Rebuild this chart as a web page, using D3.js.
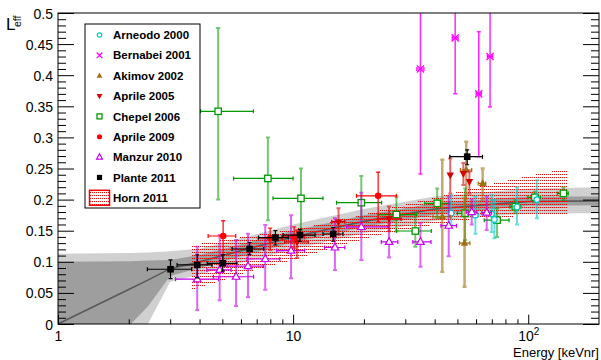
<!DOCTYPE html>
<html>
<head>
<meta charset="utf-8">
<script src="https://cdn.jsdelivr.net/npm/d3@7"></script>
<style>
  html, body { margin: 0; padding: 0; background: #fff; }
  svg { display: block; font-family: "Liberation Sans", Arial, Helvetica, sans-serif; }
</style>
</head>
<body>
<svg id="chart" width="601" height="360"></svg>
<script>
// ---- measured points: [energy, Leff, energy low, energy high, Leff low, Leff high]
const arneodo2000 = [
  [47.0, 0.178, 46.0, 48.0, 0.159, 0.207],
  [59.6, 0.175, 58.0, 61.2, 0.145, 0.205],
  [69.9, 0.177, 68.2, 71.6, 0.148, 0.207],
  [71.8, 0.168, 70.5, 73.2, 0.138, 0.200],
  [89.6, 0.188, 87.0, 92.0, 0.160, 0.220],
  [108.8, 0.200, 106.0, 111.5, 0.170, 0.231]
];
const bernabei2001 = [
  [34.8, 0.410, 33.6, 36.0, 0.241, 0.600],
  [48.9, 0.460, 47.5, 50.3, 0.370, 0.600],
  [61.6, 0.370, 60.0, 63.2, 0.269, 0.470],
  [68.8, 0.430, 67.0, 70.6, 0.349, 0.600]
];
const akimov2002 = [
  [43.1, 0.1725, 39.4, 46.8, 0.084, 0.264],
  [53.6, 0.130, 51.0, 56.5, 0.060, 0.202],
  [54.5, 0.2476, 51.5, 57.5, 0.200, 0.293],
  [64.0, 0.226, 61.3, 66.0, 0.200, 0.250]
];
const aprile2005 = [
  [10.4, 0.132, 9.2, 11.6, 0.106, 0.151],
  [15.6, 0.1645, 14.6, 16.6, 0.143, 0.186],
  [25.6, 0.169, 23.0, 28.8, 0.149, 0.189],
  [46.6, 0.2395, 46.6, 46.6, 0.210, 0.266],
  [53.0, 0.242, 53.0, 53.0, 0.2235, 0.259],
  [56.2, 0.229, 56.2, 56.2, 0.210, 0.245]
];
const chepel2006 = [
  [4.80, 0.342, 4.04, 6.78, 0.200, 0.476],
  [7.81, 0.234, 5.58, 10.0, 0.167, 0.300],
  [10.8, 0.202, 8.21, 13.4, 0.151, 0.250],
  [19.5, 0.195, 15.3, 23.8, 0.170, 0.238],
  [27.5, 0.176, 23.0, 33.5, 0.149, 0.2045],
  [33.1, 0.1495, 27.5, 38.7, 0.124, 0.177],
  [41.0, 0.194, 36.3, 46.4, 0.170, 0.218],
  [53.9, 0.178, 50.0, 58.0, 0.135, 0.218],
  [73.7, 0.167, 65.0, 82.9, 0.140, 0.186],
  [88.1, 0.1886, 83.5, 93.0, 0.178, 0.199],
  [106.7, 0.2037, 99.6, 112.6, 0.1966, 0.2127],
  [141.2, 0.210, 133.0, 148.0, 0.199, 0.220]
];
const aprile2009 = [
  [5.04, 0.1415, 4.35, 5.70, 0.102, 0.166],
  [7.99, 0.138, 7.10, 9.00, 0.119, 0.154],
  [10.1, 0.140, 8.94, 11.2, 0.122, 0.156],
  [23.0, 0.206, 18.6, 27.5, 0.164, 0.244]
];
const manzur2010 = [
  [3.91, 0.072, 3.16, 4.82, 0.0225, 0.124],
  [4.87, 0.087, 4.30, 5.45, 0.038, 0.143],
  [5.72, 0.076, 4.58, 6.79, 0.029, 0.135],
  [6.43, 0.093, 5.24, 7.48, 0.043, 0.145],
  [7.61, 0.1045, 6.36, 8.78, 0.055, 0.159],
  [9.80, 0.118, 8.52, 11.2, 0.0735, 0.175],
  [15.06, 0.123, 13.6, 16.6, 0.087, 0.170],
  [19.5, 0.156, 16.9, 25.3, 0.103, 0.211],
  [25.6, 0.132, 23.7, 27.9, 0.107, 0.162],
  [34.8, 0.132, 32.3, 38.6, 0.092, 0.162],
  [45.9, 0.158, 42.5, 49.5, 0.109, 0.2045],
  [57.5, 0.180, 54.5, 60.5, 0.160, 0.200],
  [66.6, 0.179, 63.5, 69.8, 0.151, 0.2045]
];
const plante2011 = [
  [3.01, 0.088, 2.40, 3.70, 0.073, 0.103],
  [3.91, 0.095, 3.21, 4.52, 0.074, 0.111],
  [5.02, 0.0975, 4.31, 5.77, 0.085, 0.111],
  [6.53, 0.1206, 5.50, 7.50, 0.111, 0.131],
  [8.41, 0.139, 7.13, 9.54, 0.127, 0.150],
  [10.7, 0.143, 9.06, 12.4, 0.133, 0.152],
  [14.8, 0.1447, 13.4, 16.3, 0.133, 0.155],
  [55.0, 0.269, 46.4, 63.9, 0.256, 0.280]
];

// ---- Horn 2011 allowed region
const hornE  = [3.7, 5, 7, 10, 15, 23, 40, 62, 100, 148];
const hornLo = [0.055, 0.070, 0.088, 0.103, 0.123, 0.143, 0.160, 0.170, 0.174, 0.175];
const hornHi = [0.127, 0.135, 0.143, 0.152, 0.165, 0.182, 0.203, 0.221, 0.238, 0.250];

// ---- global fit: central curve with 1 and 2 sigma bands
const bandE    = [1, 2.04, 2.41, 3.0, 4, 6, 10, 20, 40, 100, 200];
const bandMean = [0, 0.057, 0.0705, 0.089, 0.100, 0.118, 0.140, 0.165, 0.185, 0.197, 0.198];
const band1Lo  = [0, 0, 0.028, 0.077, 0.090, 0.109, 0.131, 0.156, 0.176, 0.190, 0.191];
const band1Hi  = [0.100, 0.101, 0.102, 0.103, 0.111, 0.128, 0.150, 0.175, 0.194, 0.205, 0.205];
const band2Lo  = [0, 0, 0, 0.068, 0.079, 0.098, 0.120, 0.146, 0.166, 0.178, 0.178];
const band2Hi  = [0.113, 0.114, 0.115, 0.117, 0.121, 0.138, 0.160, 0.185, 0.205, 0.218, 0.220];

// ---- axes
const yMajor = [0, 0.05, 0.1, 0.15, 0.2, 0.25, 0.3, 0.35, 0.4, 0.45, 0.5];
const yTickLabels = ["0", "0.05", "0.1", "0.15", "0.2", "0.25", "0.3", "0.35", "0.4", "0.45", "0.5"];
const xMajor = [1, 10, 100];
const xMinor = [2, 3, 4, 5, 6, 7, 8, 9, 20, 30, 40, 50, 60, 70, 80, 90];
const xTitle = "Energy [keVnr]";

const legendLabels = ["Arneodo 2000", "Bernabei 2001", "Akimov 2002", "Aprile 2005",
  "Chepel 2006", "Aprile 2009", "Manzur 2010", "Plante 2011", "Horn 2011"];

// ---------------------------------------------------------------
const svg = d3.select("#chart");
const X0 = 58, X1 = 599, Y0 = 324, Y1 = 13;
const x = d3.scaleLog().domain([1, 200]).range([X0, X1]);
const y = d3.scaleLinear().domain([0, 0.5]).range([Y0, Y1]);

const defs = svg.append("defs");
defs.append("clipPath").attr("id", "plotClip")
  .append("rect").attr("x", X0).attr("y", Y1).attr("width", X1 - X0).attr("height", Y0 - Y1);
// sparse red stipple for the Horn region
const pat = defs.append("pattern").attr("id", "hornDots")
  .attr("width", 2).attr("height", 3).attr("patternUnits", "userSpaceOnUse");
pat.append("rect").attr("x", 0).attr("y", 0).attr("width", 1).attr("height", 1).attr("fill", "#ff0000");

const plot = svg.append("g").attr("clip-path", "url(#plotClip)");

// bands of the fit
const bandRows = bandE.map((e, i) => ({ e, m: bandMean[i], l1: band1Lo[i], h1: band1Hi[i], l2: band2Lo[i], h2: band2Hi[i] }));
const area = (lo, hi) => d3.area().x(d => x(d.e)).y0(d => y(d[lo])).y1(d => y(d[hi]));
plot.append("path").datum(bandRows).attr("d", area("l2", "h2")).attr("fill", "#d0d0d0");
plot.append("path").datum(bandRows).attr("d", area("l1", "h1")).attr("fill", "#9e9e9e");
plot.append("path").datum(bandRows)
  .attr("d", d3.line().x(d => x(d.e)).y(d => y(d.m)))
  .attr("fill", "none").attr("stroke", "#5a5a5a").attr("stroke-width", 1.6);

// Horn 2011 region
const hornRows = hornE.map((e, i) => ({ e, lo: hornLo[i], hi: hornHi[i] }));
plot.append("path").datum(hornRows)
  .attr("d", d3.area().x(d => x(d.e)).y0(d => y(d.lo)).y1(d => y(d.hi)))
  .attr("fill", "url(#hornDots)").attr("shape-rendering", "crispEdges");

// ---- markers
function marker(g, type, cx, cy, color, s) {
  s = s || 1;
  if (type === "circleOpen") {
    g.append("circle").attr("cx", cx).attr("cy", cy).attr("r", 2.8 * s)
      .attr("fill", "white").attr("stroke", color).attr("stroke-width", 1.2);
  } else if (type === "circleFill") {
    g.append("circle").attr("cx", cx).attr("cy", cy).attr("r", 3.3 * s).attr("fill", color);
  } else if (type === "squareFill") {
    const h = 3.3 * s;
    g.append("rect").attr("x", cx - h).attr("y", cy - h).attr("width", 2 * h).attr("height", 2 * h).attr("fill", color);
  } else if (type === "squareOpen") {
    const h = 3.2 * s;
    g.append("rect").attr("x", cx - h).attr("y", cy - h).attr("width", 2 * h).attr("height", 2 * h)
      .attr("fill", "white").attr("stroke", color).attr("stroke-width", 1.3);
  } else if (type === "triUpFill" || type === "triUpOpen" || type === "triDownFill") {
    const r = 4.2 * s;
    const dir = type === "triDownFill" ? -1 : 1;
    const pts = [[cx, cy - dir * r], [cx + r * 0.9, cy + dir * r * 0.6], [cx - r * 0.9, cy + dir * r * 0.6]];
    const p = g.append("path").attr("d", d3.line()(pts) + "Z");
    if (type === "triUpOpen") p.attr("fill", "white").attr("stroke", color).attr("stroke-width", 1.2);
    else p.attr("fill", color);
  } else if (type === "cross") {
    const r = 3.6 * s;
    g.append("path").attr("d", `M${cx - r},${cy - r}L${cx + r},${cy + r}M${cx - r},${cy + r}L${cx + r},${cy - r}`)
      .attr("stroke", color).attr("stroke-width", 1.3).attr("fill", "none");
  }
}

function drawSeries(rows, opt) {
  const g = plot.append("g");
  const cap = 2;
  rows.forEach(r => {
    const [e, l, elo, ehi, llo, lhi] = r;
    const cx = x(e), cy = y(l);
    // vertical error
    const vy0 = y(llo), vy1 = y(lhi);
    g.append("path")
      .attr("d", `M${cx},${vy0}L${cx},${vy1}M${cx - cap},${vy0}L${cx + cap},${vy0}M${cx - cap},${vy1}L${cx + cap},${vy1}`)
      .attr("stroke", opt.color).attr("stroke-width", opt.vWidth).attr("stroke-opacity", opt.vOpacity).attr("fill", "none");
    // horizontal error
    if (ehi > elo) {
      const hx0 = x(elo), hx1 = x(ehi);
      g.append("path")
        .attr("d", `M${hx0},${cy}L${hx1},${cy}M${hx0},${cy - cap}L${hx0},${cy + cap}M${hx1},${cy - cap}L${hx1},${cy + cap}`)
        .attr("stroke", opt.color).attr("stroke-width", 1.2).attr("fill", "none");
    }
    marker(g, opt.marker, cx, cy, opt.color, 1);
  });
}

const styles = {
  arneodo:  { color: "#00c8c8", marker: "circleOpen",  vWidth: 2,   vOpacity: 0.6 },
  bernabei: { color: "#ff00ff", marker: "cross",       vWidth: 1.5, vOpacity: 0.85 },
  akimov:   { color: "#a0700f", marker: "triUpFill",   vWidth: 2.5, vOpacity: 0.6 },
  aprile05: { color: "#d40000", marker: "triDownFill", vWidth: 2,   vOpacity: 0.6 },
  chepel:   { color: "#009900", marker: "squareOpen",  vWidth: 2,   vOpacity: 0.55 },
  aprile09: { color: "#ff0000", marker: "circleFill",  vWidth: 1.3, vOpacity: 0.9 },
  manzur:   { color: "#c800f0", marker: "triUpOpen",   vWidth: 2,   vOpacity: 0.6 },
  plante:   { color: "#000000", marker: "squareFill",  vWidth: 1.2, vOpacity: 1 }
};

drawSeries(chepel2006, styles.chepel);
drawSeries(arneodo2000, styles.arneodo);
drawSeries(akimov2002, styles.akimov);
drawSeries(manzur2010, styles.manzur);
drawSeries(aprile2005, styles.aprile05);
drawSeries(aprile2009, styles.aprile09);
drawSeries(bernabei2001, styles.bernabei);
drawSeries(plante2011, styles.plante);

// ---- axes
const yMinor = d3.range(0, 50).map(i => i / 100).filter(v => Math.round(v * 100) % 5 !== 0);
const axisStyle = g => {
  g.select(".domain").remove();
  g.selectAll("line").attr("stroke", "#000").attr("stroke-width", 1);
  g.selectAll("text").attr("font-size", 14).attr("fill", "#000")
    .attr("font-family", "'Liberation Sans', Arial, sans-serif");
};
svg.append("g").attr("transform", `translate(${X0},0)`)
  .call(d3.axisLeft(y).tickValues(yMajor).tickSize(-16).tickPadding(5)
    .tickFormat((d, i) => yTickLabels[i]))
  .call(axisStyle)
  .call(g => g.selectAll("text").attr("dy", "0.36em"));
svg.append("g").attr("transform", `translate(${X0},0)`)
  .call(d3.axisLeft(y).tickValues(yMinor).tickSize(-8).tickFormat(""))
  .call(axisStyle);
svg.append("g").attr("transform", `translate(${X1},0)`)
  .call(d3.axisRight(y).tickValues(yMajor).tickSize(-16).tickFormat(""))
  .call(axisStyle);
svg.append("g").attr("transform", `translate(${X1},0)`)
  .call(d3.axisRight(y).tickValues(yMinor).tickSize(-8).tickFormat(""))
  .call(axisStyle);
svg.append("g").attr("transform", `translate(0,${Y0})`)
  .call(d3.axisBottom(x).tickValues(xMajor).tickSize(-9.3).tickPadding(7).tickFormat(d => d))
  .call(axisStyle)
  .call(g => g.selectAll("text").each(function (d) {
    const t = d3.select(this);
    if (d === 100) {
      t.text("");
      t.append("tspan").text("10");
      t.append("tspan").attr("font-size", 10).attr("dy", "-0.55em").text("2");
    }
  }));
svg.append("g").attr("transform", `translate(0,${Y0})`)
  .call(d3.axisBottom(x).tickValues(xMinor).tickSize(-4.7).tickFormat(""))
  .call(axisStyle);

// frame
svg.append("rect").attr("x", X0).attr("y", Y1).attr("width", X1 - X0).attr("height", Y0 - Y1)
  .attr("fill", "none").attr("stroke", "#000").attr("stroke-width", 1);

// axis titles
svg.append("text").attr("x", 599).attr("y", 356.5).attr("text-anchor", "end")
  .attr("font-size", 13).text(xTitle);
svg.append("text").attr("x", 6).attr("y", 30).attr("font-size", 17).text("L");
svg.append("text").attr("transform", "translate(21,27) rotate(-90)")
  .attr("font-size", 10.5).text("eff");

// ---- legend
const lg = svg.append("g");
lg.append("rect").attr("x", 85).attr("y", 24).attr("width", 115).attr("height", 184)
  .attr("fill", "white").attr("stroke", "#000").attr("stroke-width", 1);
const legendMarkers = [
  ["circleOpen", "#00c8c8"], ["cross", "#ff00ff"], ["triUpFill", "#a0700f"], ["triDownFill", "#d40000"],
  ["squareOpen", "#009900"], ["circleFill", "#ff0000"], ["triUpOpen", "#c800f0"], ["squareFill", "#000000"], ["horn", "#ff0000"]
];
legendLabels.forEach((lab, i) => {
  const cy = 35 + i * 20.35;
  const [type, col] = legendMarkers[i];
  if (type === "horn") {
    lg.append("rect").attr("x", 89.5).attr("y", cy - 7.5).attr("width", 20).attr("height", 15)
      .attr("fill", "url(#hornDots)").attr("stroke", "#ff0000").attr("stroke-width", 1.5);
  } else {
    marker(lg, type, 99.5, cy, col, 0.78);
  }
  lg.append("text").attr("x", 113).attr("y", cy).attr("dy", "0.36em")
    .attr("font-size", 11.5).attr("font-weight", "bold").text(lab);
});
</script>
</body>
</html>
